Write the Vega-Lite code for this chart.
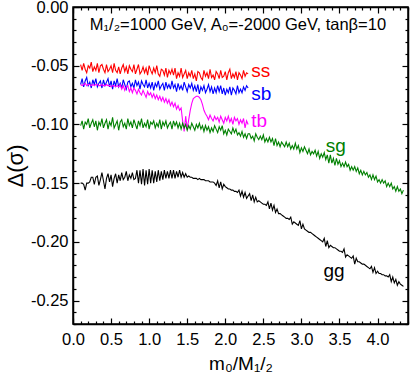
{
  "$schema": "https://vega.github.io/schema/vega-lite/v6.json",
  "width": 335,
  "height": 317,
  "autosize": {"type": "none"},
  "padding": {"left": 73, "top": 7, "right": 3, "bottom": 49},
  "config": {
    "font": "Liberation Sans",
    "view": {"stroke": "black", "strokeWidth": 1.5},
    "axis": {
      "domainColor": "black", "domainWidth": 1.5, "tickColor": "black", "tickWidth": 1.2,
      "labelColor": "black", "titleColor": "black", "labelFont": "Liberation Sans", "titleFont": "Liberation Sans",
      "labelFontSize": 16.5, "grid": false, "labelOverlap": false, "labelFlush": false, "labelBound": false,
      "titleFontWeight": "normal"
    }
  },
  "datasets": {
    "curves": [
      {"x":0.10,"ss":-0.049,"sb":-0.066,"tb":-0.066,"sg":-0.101,"gg":-0.150},
      {"x":0.12,"ss":-0.054,"sb":-0.061,"tb":-0.067,"sg":-0.097,"gg":-0.150},
      {"x":0.14,"ss":-0.048,"sb":-0.068,"tb":-0.066,"sg":-0.104,"gg":-0.151},
      {"x":0.16,"ss":-0.053,"sb":-0.063,"tb":-0.065,"sg":-0.098,"gg":-0.156},
      {"x":0.18,"ss":-0.056,"sb":-0.060,"tb":-0.067,"sg":-0.100,"gg":-0.150},
      {"x":0.20,"ss":-0.050,"sb":-0.067,"tb":-0.066,"sg":-0.095,"gg":-0.150},
      {"x":0.22,"ss":-0.052,"sb":-0.064,"tb":-0.066,"sg":-0.103,"gg":-0.149},
      {"x":0.24,"ss":-0.047,"sb":-0.069,"tb":-0.067,"sg":-0.099,"gg":-0.145},
      {"x":0.26,"ss":-0.055,"sb":-0.062,"tb":-0.066,"sg":-0.096,"gg":-0.145},
      {"x":0.28,"ss":-0.051,"sb":-0.066,"tb":-0.067,"sg":-0.102,"gg":-0.151},
      {"x":0.30,"ss":-0.054,"sb":-0.061,"tb":-0.066,"sg":-0.097,"gg":-0.145},
      {"x":0.32,"ss":-0.048,"sb":-0.068,"tb":-0.066,"sg":-0.105,"gg":-0.144},
      {"x":0.34,"ss":-0.056,"sb":-0.065,"tb":-0.067,"sg":-0.098,"gg":-0.152},
      {"x":0.36,"ss":-0.050,"sb":-0.063,"tb":-0.067,"sg":-0.101,"gg":-0.147},
      {"x":0.38,"ss":-0.049,"sb":-0.069,"tb":-0.066,"sg":-0.095,"gg":-0.141},
      {"x":0.40,"ss":-0.053,"sb":-0.062,"tb":-0.067,"sg":-0.103,"gg":-0.148},
      {"x":0.42,"ss":-0.056,"sb":-0.067,"tb":-0.067,"sg":-0.099,"gg":-0.155},
      {"x":0.44,"ss":-0.049,"sb":-0.064,"tb":-0.066,"sg":-0.096,"gg":-0.146},
      {"x":0.46,"ss":-0.055,"sb":-0.061,"tb":-0.067,"sg":-0.104,"gg":-0.142},
      {"x":0.48,"ss":-0.053,"sb":-0.068,"tb":-0.067,"sg":-0.098,"gg":-0.149},
      {"x":0.50,"ss":-0.050,"sb":-0.063,"tb":-0.068,"sg":-0.101,"gg":-0.143},
      {"x":0.52,"ss":-0.056,"sb":-0.070,"tb":-0.067,"sg":-0.094,"gg":-0.153},
      {"x":0.54,"ss":-0.048,"sb":-0.063,"tb":-0.067,"sg":-0.103,"gg":-0.146},
      {"x":0.56,"ss":-0.054,"sb":-0.067,"tb":-0.068,"sg":-0.100,"gg":-0.142},
      {"x":0.58,"ss":-0.056,"sb":-0.061,"tb":-0.067,"sg":-0.097,"gg":-0.150},
      {"x":0.60,"ss":-0.051,"sb":-0.068,"tb":-0.068,"sg":-0.105,"gg":-0.143},
      {"x":0.62,"ss":-0.057,"sb":-0.065,"tb":-0.066,"sg":-0.098,"gg":-0.148},
      {"x":0.64,"ss":-0.052,"sb":-0.069,"tb":-0.070,"sg":-0.096,"gg":-0.141},
      {"x":0.66,"ss":-0.049,"sb":-0.062,"tb":-0.067,"sg":-0.102,"gg":-0.147},
      {"x":0.68,"ss":-0.055,"sb":-0.066,"tb":-0.071,"sg":-0.099,"gg":-0.145},
      {"x":0.70,"ss":-0.051,"sb":-0.070,"tb":-0.068,"sg":-0.104,"gg":-0.140},
      {"x":0.72,"ss":-0.057,"sb":-0.064,"tb":-0.067,"sg":-0.095,"gg":-0.148},
      {"x":0.74,"ss":-0.050,"sb":-0.063,"tb":-0.072,"sg":-0.101,"gg":-0.143},
      {"x":0.76,"ss":-0.053,"sb":-0.068,"tb":-0.069,"sg":-0.098,"gg":-0.146},
      {"x":0.78,"ss":-0.055,"sb":-0.065,"tb":-0.073,"sg":-0.103,"gg":-0.141},
      {"x":0.80,"ss":-0.049,"sb":-0.069,"tb":-0.069,"sg":-0.096,"gg":-0.147},
      {"x":0.82,"ss":-0.057,"sb":-0.062,"tb":-0.071,"sg":-0.100,"gg":-0.146},
      {"x":0.84,"ss":-0.053,"sb":-0.067,"tb":-0.074,"sg":-0.104,"gg":-0.139},
      {"x":0.86,"ss":-0.049,"sb":-0.064,"tb":-0.070,"sg":-0.097,"gg":-0.150},
      {"x":0.88,"ss":-0.057,"sb":-0.070,"tb":-0.073,"sg":-0.101,"gg":-0.139},
      {"x":0.90,"ss":-0.055,"sb":-0.063,"tb":-0.075,"sg":-0.095,"gg":-0.151},
      {"x":0.92,"ss":-0.051,"sb":-0.066,"tb":-0.071,"sg":-0.103,"gg":-0.138},
      {"x":0.94,"ss":-0.056,"sb":-0.068,"tb":-0.074,"sg":-0.099,"gg":-0.152},
      {"x":0.96,"ss":-0.052,"sb":-0.062,"tb":-0.077,"sg":-0.102,"gg":-0.139},
      {"x":0.98,"ss":-0.058,"sb":-0.069,"tb":-0.072,"sg":-0.096,"gg":-0.151},
      {"x":1.00,"ss":-0.050,"sb":-0.065,"tb":-0.075,"sg":-0.104,"gg":-0.138},
      {"x":1.02,"ss":-0.054,"sb":-0.069,"tb":-0.073,"sg":-0.098,"gg":-0.150},
      {"x":1.04,"ss":-0.057,"sb":-0.064,"tb":-0.077,"sg":-0.100,"gg":-0.139},
      {"x":1.06,"ss":-0.052,"sb":-0.071,"tb":-0.074,"sg":-0.097,"gg":-0.150},
      {"x":1.08,"ss":-0.056,"sb":-0.065,"tb":-0.078,"sg":-0.103,"gg":-0.140},
      {"x":1.10,"ss":-0.050,"sb":-0.068,"tb":-0.075,"sg":-0.099,"gg":-0.149},
      {"x":1.12,"ss":-0.057,"sb":-0.063,"tb":-0.079,"sg":-0.102,"gg":-0.139},
      {"x":1.14,"ss":-0.059,"sb":-0.070,"tb":-0.076,"sg":-0.096,"gg":-0.148},
      {"x":1.16,"ss":-0.053,"sb":-0.067,"tb":-0.080,"sg":-0.104,"gg":-0.140},
      {"x":1.18,"ss":-0.054,"sb":-0.065,"tb":-0.077,"sg":-0.098,"gg":-0.147},
      {"x":1.20,"ss":-0.058,"sb":-0.071,"tb":-0.081,"sg":-0.101,"gg":-0.139},
      {"x":1.22,"ss":-0.052,"sb":-0.064,"tb":-0.078,"sg":-0.097,"gg":-0.146},
      {"x":1.24,"ss":-0.060,"sb":-0.069,"tb":-0.082,"sg":-0.103,"gg":-0.140},
      {"x":1.26,"ss":-0.054,"sb":-0.066,"tb":-0.079,"sg":-0.100,"gg":-0.146},
      {"x":1.28,"ss":-0.057,"sb":-0.070,"tb":-0.084,"sg":-0.098,"gg":-0.139},
      {"x":1.30,"ss":-0.053,"sb":-0.063,"tb":-0.081,"sg":-0.104,"gg":-0.146},
      {"x":1.32,"ss":-0.058,"sb":-0.069,"tb":-0.085,"sg":-0.097,"gg":-0.139},
      {"x":1.34,"ss":-0.052,"sb":-0.066,"tb":-0.082,"sg":-0.101,"gg":-0.146},
      {"x":1.36,"ss":-0.061,"sb":-0.072,"tb":-0.087,"sg":-0.098,"gg":-0.140},
      {"x":1.38,"ss":-0.056,"sb":-0.065,"tb":-0.084,"sg":-0.103,"gg":-0.145},
      {"x":1.40,"ss":-0.059,"sb":-0.070,"tb":-0.088,"sg":-0.099,"gg":-0.139},
      {"x":1.42,"ss":-0.052,"sb":-0.067,"tb":-0.086,"sg":-0.104,"gg":-0.145},
      {"x":1.44,"ss":-0.060,"sb":-0.071,"tb":-0.097,"sg":-0.099,"gg":-0.141},
      {"x":1.46,"ss":-0.057,"sb":-0.064,"tb":-0.106,"sg":-0.103,"gg":-0.145},
      {"x":1.48,"ss":-0.054,"sb":-0.068,"tb":-0.093,"sg":-0.100,"gg":-0.142},
      {"x":1.50,"ss":-0.061,"sb":-0.072,"tb":-0.104,"sg":-0.105,"gg":-0.145},
      {"x":1.52,"ss":-0.056,"sb":-0.066,"tb":-0.096,"sg":-0.101,"gg":-0.144},
      {"x":1.54,"ss":-0.059,"sb":-0.069,"tb":-0.088,"sg":-0.104,"gg":-0.145},
      {"x":1.56,"ss":-0.054,"sb":-0.065,"tb":-0.082,"sg":-0.099,"gg":-0.145},
      {"x":1.58,"ss":-0.061,"sb":-0.071,"tb":-0.078,"sg":-0.102,"gg":-0.146},
      {"x":1.60,"ss":-0.057,"sb":-0.067,"tb":-0.077,"sg":-0.105,"gg":-0.146},
      {"x":1.62,"ss":-0.063,"sb":-0.072,"tb":-0.076,"sg":-0.100,"gg":-0.146},
      {"x":1.64,"ss":-0.055,"sb":-0.066,"tb":-0.076,"sg":-0.103,"gg":-0.147},
      {"x":1.66,"ss":-0.056,"sb":-0.074,"tb":-0.077,"sg":-0.099,"gg":-0.146},
      {"x":1.68,"ss":-0.060,"sb":-0.068,"tb":-0.079,"sg":-0.104,"gg":-0.147},
      {"x":1.70,"ss":-0.062,"sb":-0.071,"tb":-0.083,"sg":-0.101,"gg":-0.147},
      {"x":1.72,"ss":-0.054,"sb":-0.067,"tb":-0.088,"sg":-0.106,"gg":-0.147},
      {"x":1.74,"ss":-0.059,"sb":-0.073,"tb":-0.091,"sg":-0.101,"gg":-0.148},
      {"x":1.76,"ss":-0.056,"sb":-0.070,"tb":-0.093,"sg":-0.105,"gg":-0.148},
      {"x":1.78,"ss":-0.061,"sb":-0.066,"tb":-0.096,"sg":-0.102,"gg":-0.148},
      {"x":1.80,"ss":-0.053,"sb":-0.072,"tb":-0.092,"sg":-0.107,"gg":-0.149},
      {"x":1.82,"ss":-0.060,"sb":-0.068,"tb":-0.095,"sg":-0.103,"gg":-0.149},
      {"x":1.84,"ss":-0.058,"sb":-0.074,"tb":-0.097,"sg":-0.106,"gg":-0.149},
      {"x":1.86,"ss":-0.062,"sb":-0.069,"tb":-0.093,"sg":-0.101,"gg":-0.150},
      {"x":1.88,"ss":-0.055,"sb":-0.073,"tb":-0.096,"sg":-0.104,"gg":-0.152},
      {"x":1.90,"ss":-0.057,"sb":-0.067,"tb":-0.094,"sg":-0.107,"gg":-0.148},
      {"x":1.92,"ss":-0.061,"sb":-0.072,"tb":-0.098,"sg":-0.102,"gg":-0.154},
      {"x":1.94,"ss":-0.054,"sb":-0.067,"tb":-0.093,"sg":-0.105,"gg":-0.149},
      {"x":1.96,"ss":-0.060,"sb":-0.074,"tb":-0.096,"sg":-0.101,"gg":-0.155},
      {"x":1.98,"ss":-0.059,"sb":-0.069,"tb":-0.099,"sg":-0.108,"gg":-0.151},
      {"x":2.00,"ss":-0.055,"sb":-0.075,"tb":-0.094,"sg":-0.105,"gg":-0.153},
      {"x":2.02,"ss":-0.062,"sb":-0.070,"tb":-0.097,"sg":-0.109,"gg":-0.154},
      {"x":2.04,"ss":-0.056,"sb":-0.073,"tb":-0.093,"sg":-0.104,"gg":-0.155},
      {"x":2.06,"ss":-0.053,"sb":-0.068,"tb":-0.098,"sg":-0.106,"gg":-0.155},
      {"x":2.08,"ss":-0.061,"sb":-0.075,"tb":-0.095,"sg":-0.108,"gg":-0.156},
      {"x":2.10,"ss":-0.057,"sb":-0.069,"tb":-0.100,"sg":-0.103,"gg":-0.156},
      {"x":2.12,"ss":-0.060,"sb":-0.071,"tb":-0.094,"sg":-0.107,"gg":-0.157},
      {"x":2.14,"ss":-0.055,"sb":-0.074,"tb":-0.097,"sg":-0.104,"gg":-0.157},
      {"x":2.16,"ss":-0.062,"sb":-0.067,"tb":-0.095,"sg":-0.109,"gg":-0.158},
      {"x":2.18,"ss":-0.056,"sb":-0.073,"tb":-0.100,"sg":-0.107,"gg":-0.156},
      {"x":2.20,"ss":-0.058,"sb":-0.070,"tb":-0.096,"sg":-0.110,"gg":-0.161},
      {"x":2.22,"ss":-0.061,"sb":-0.073,"tb":-0.099,"sg":-0.106,"gg":-0.157},
      {"x":2.24,"ss":-0.054,"sb":-0.068,"tb":-0.095,"sg":-0.111,"gg":-0.162},
      {"x":2.26,"ss":-0.059,"sb":-0.071,"tb":-0.103,"sg":-0.108,"gg":-0.158},
      {"x":2.28,"ss":-0.056,"sb":-0.067,"tb":-0.097,"sg":-0.112,"gg":-0.163},
      {"x":2.30,"ss":-0.057,"sb":-0.069,"tb":-0.100,"sg":-0.108,"gg":-0.161},
      {"x":2.32,"sg":-0.108,"gg":-0.159},
      {"x":2.34,"sg":-0.112,"gg":-0.165},
      {"x":2.36,"sg":-0.110,"gg":-0.160},
      {"x":2.38,"sg":-0.114,"gg":-0.166},
      {"x":2.40,"sg":-0.108,"gg":-0.162},
      {"x":2.42,"sg":-0.111,"gg":-0.166},
      {"x":2.44,"sg":-0.113,"gg":-0.165},
      {"x":2.46,"sg":-0.110,"gg":-0.166},
      {"x":2.48,"sg":-0.113,"gg":-0.167},
      {"x":2.50,"sg":-0.109,"gg":-0.168},
      {"x":2.52,"sg":-0.115,"gg":-0.168},
      {"x":2.54,"sg":-0.112,"gg":-0.169},
      {"x":2.56,"sg":-0.115,"gg":-0.166},
      {"x":2.58,"sg":-0.111,"gg":-0.172},
      {"x":2.60,"sg":-0.115,"gg":-0.167},
      {"x":2.62,"sg":-0.112,"gg":-0.173},
      {"x":2.64,"sg":-0.118,"gg":-0.169},
      {"x":2.66,"sg":-0.112,"gg":-0.175},
      {"x":2.68,"sg":-0.118,"gg":-0.172},
      {"x":2.70,"sg":-0.115,"gg":-0.176},
      {"x":2.72,"sg":-0.119,"gg":-0.176},
      {"x":2.74,"sg":-0.115,"gg":-0.177},
      {"x":2.76,"sg":-0.117,"gg":-0.178},
      {"x":2.78,"sg":-0.119,"gg":-0.179},
      {"x":2.80,"sg":-0.115,"gg":-0.180},
      {"x":2.82,"sg":-0.119,"gg":-0.180},
      {"x":2.84,"sg":-0.116,"gg":-0.181},
      {"x":2.86,"sg":-0.121,"gg":-0.179},
      {"x":2.88,"sg":-0.118,"gg":-0.185},
      {"x":2.90,"sg":-0.121,"gg":-0.183},
      {"x":2.92,"sg":-0.116,"gg":-0.184},
      {"x":2.94,"sg":-0.121,"gg":-0.185},
      {"x":2.96,"sg":-0.118,"gg":-0.186},
      {"x":2.98,"sg":-0.124,"gg":-0.182},
      {"x":3.00,"sg":-0.120,"gg":-0.189},
      {"x":3.02,"sg":-0.123,"gg":-0.185},
      {"x":3.04,"sg":-0.119,"gg":-0.189},
      {"x":3.06,"sg":-0.122,"gg":-0.190},
      {"x":3.08,"sg":-0.125,"gg":-0.191},
      {"x":3.10,"sg":-0.121,"gg":-0.192},
      {"x":3.12,"sg":-0.126,"gg":-0.192},
      {"x":3.14,"sg":-0.123,"gg":-0.193},
      {"x":3.16,"sg":-0.125,"gg":-0.194},
      {"x":3.18,"sg":-0.122,"gg":-0.195},
      {"x":3.20,"sg":-0.127,"gg":-0.196},
      {"x":3.22,"sg":-0.123,"gg":-0.197},
      {"x":3.24,"sg":-0.129,"gg":-0.198},
      {"x":3.26,"sg":-0.125,"gg":-0.199},
      {"x":3.28,"sg":-0.128,"gg":-0.200},
      {"x":3.30,"sg":-0.124,"gg":-0.197},
      {"x":3.32,"sg":-0.130,"gg":-0.204},
      {"x":3.34,"sg":-0.126,"gg":-0.199},
      {"x":3.36,"sg":-0.133,"gg":-0.205},
      {"x":3.38,"sg":-0.126,"gg":-0.203},
      {"x":3.40,"sg":-0.133,"gg":-0.204},
      {"x":3.42,"sg":-0.129,"gg":-0.205},
      {"x":3.44,"sg":-0.135,"gg":-0.205},
      {"x":3.46,"sg":-0.129,"gg":-0.206},
      {"x":3.48,"sg":-0.134,"gg":-0.207},
      {"x":3.50,"sg":-0.131,"gg":-0.208},
      {"x":3.52,"sg":-0.136,"gg":-0.208},
      {"x":3.54,"sg":-0.133,"gg":-0.209},
      {"x":3.56,"sg":-0.136,"gg":-0.206},
      {"x":3.58,"sg":-0.132,"gg":-0.213},
      {"x":3.60,"sg":-0.136,"gg":-0.211},
      {"x":3.62,"sg":-0.134,"gg":-0.212},
      {"x":3.64,"sg":-0.139,"gg":-0.213},
      {"x":3.66,"sg":-0.136,"gg":-0.214},
      {"x":3.68,"sg":-0.139,"gg":-0.212},
      {"x":3.70,"sg":-0.136,"gg":-0.219},
      {"x":3.72,"sg":-0.140,"gg":-0.214},
      {"x":3.74,"sg":-0.137,"gg":-0.217},
      {"x":3.76,"sg":-0.142,"gg":-0.217},
      {"x":3.78,"sg":-0.139,"gg":-0.218},
      {"x":3.80,"sg":-0.143,"gg":-0.219},
      {"x":3.82,"sg":-0.140,"gg":-0.219},
      {"x":3.84,"sg":-0.143,"gg":-0.220},
      {"x":3.86,"sg":-0.141,"gg":-0.221},
      {"x":3.88,"sg":-0.145,"gg":-0.222},
      {"x":3.90,"sg":-0.143,"gg":-0.223},
      {"x":3.92,"sg":-0.147,"gg":-0.221},
      {"x":3.94,"sg":-0.143,"gg":-0.226},
      {"x":3.96,"sg":-0.147,"gg":-0.222},
      {"x":3.98,"sg":-0.144,"gg":-0.227},
      {"x":4.00,"sg":-0.149,"gg":-0.225},
      {"x":4.02,"sg":-0.147,"gg":-0.227},
      {"x":4.04,"sg":-0.150,"gg":-0.227},
      {"x":4.06,"sg":-0.147,"gg":-0.228},
      {"x":4.08,"sg":-0.150,"gg":-0.228},
      {"x":4.10,"sg":-0.148,"gg":-0.229},
      {"x":4.12,"sg":-0.153,"gg":-0.229},
      {"x":4.14,"sg":-0.150,"gg":-0.230},
      {"x":4.16,"sg":-0.153,"gg":-0.228},
      {"x":4.18,"sg":-0.150,"gg":-0.234},
      {"x":4.20,"sg":-0.155,"gg":-0.230},
      {"x":4.22,"sg":-0.153,"gg":-0.235},
      {"x":4.24,"sg":-0.157,"gg":-0.232},
      {"x":4.26,"sg":-0.153,"gg":-0.237},
      {"x":4.28,"sg":-0.157,"gg":-0.234},
      {"x":4.30,"sg":-0.155,"gg":-0.236},
      {"x":4.32,"sg":-0.159,"gg":-0.237},
      {"x":4.34,"sg":-0.156,"gg":-0.238}
    ],
    "labels": [
      {"series":"ss","x":2.34,"y":-0.060},
      {"series":"sb","x":2.34,"y":-0.0788},
      {"series":"tb","x":2.34,"y":-0.1025},
      {"series":"sg","x":3.32,"y":-0.1237},
      {"series":"gg","x":3.29,"y":-0.2297}
    ],
    "header": [
      {"text":"M₁/₂=1000 GeV, A₀=-2000 GeV, tanβ=10","x":0.22,"y":-0.0195}
    ]
  },
  "layer": [
    {
      "data": {"name": "curves"},
      "transform": [
        {"fold": ["ss","sb","tb","sg","gg"], "as": ["series","y"]},
        {"filter": "isValid(datum.y)"}
      ],
      "mark": {"type": "line", "strokeWidth": 1.1},
      "encoding": {
        "x": {
          "field": "x", "type": "quantitative",
          "scale": {"domain": [0, 4.4], "nice": false, "zero": false},
          "axis": {
            "orient": "bottom",
            "values": [0,0.1,0.2,0.3,0.4,0.5,0.6,0.7,0.8,0.9,1,1.1,1.2,1.3,1.4,1.5,1.6,1.7,1.8,1.9,2,2.1,2.2,2.3,2.4,2.5,2.6,2.7,2.8,2.9,3,3.1,3.2,3.3,3.4,3.5,3.6,3.7,3.8,3.9,4,4.1,4.2,4.3,4.4],
            "tickSize": {"condition": {"test": "abs(datum.value*2-round(datum.value*2))<1e-6", "value": -6}, "value": -3},
            "labelExpr": "abs(datum.value*2-round(datum.value*2))<1e-6 ? format(datum.value,'.1f') : ''",
            "labelPadding": 13,
            "title": "m₀/M₁/₂",
            "titleFontSize": 19,
            "titlePadding": 4
          }
        },
        "y": {
          "field": "y", "type": "quantitative",
          "scale": {"domain": [-0.27, 0], "nice": false, "zero": false},
          "axis": {
            "orient": "left",
            "values": [-0.27,-0.26,-0.25,-0.24,-0.23,-0.22,-0.21,-0.2,-0.19,-0.18,-0.17,-0.16,-0.15,-0.14,-0.13,-0.12,-0.11,-0.1,-0.09,-0.08,-0.07,-0.06,-0.05,-0.04,-0.03,-0.02,-0.01,0],
            "tickSize": {"condition": {"test": "abs(datum.value*20-round(datum.value*20))<1e-6", "value": -6}, "value": -3},
            "labelExpr": "abs(datum.value*20-round(datum.value*20))<1e-6 ? replace(format(datum.value,'.2f'),'−','-') : ''",
            "labelPadding": 11,
            "title": "Δ(σ)",
            "titleFontSize": 22,
            "titlePadding": 3
          }
        },
        "color": {
          "field": "series", "type": "nominal",
          "scale": {"domain": ["ss","sb","tb","sg","gg"], "range": ["#ff0000","#0000ff","#ff00ff","#008000","#000000"]},
          "legend": null
        }
      }
    },
    {
      "data": {"name": "labels"},
      "mark": {"type": "text", "align": "left", "baseline": "alphabetic", "fontSize": 19, "font": "Liberation Sans"},
      "encoding": {
        "x": {
          "field": "x", "type": "quantitative",
          "scale": {"domain": [0, 4.4], "nice": false, "zero": false},
          "axis": {
            "orient": "top",
            "values": [0,0.1,0.2,0.3,0.4,0.5,0.6,0.7,0.8,0.9,1,1.1,1.2,1.3,1.4,1.5,1.6,1.7,1.8,1.9,2,2.1,2.2,2.3,2.4,2.5,2.6,2.7,2.8,2.9,3,3.1,3.2,3.3,3.4,3.5,3.6,3.7,3.8,3.9,4,4.1,4.2,4.3,4.4],
            "tickSize": {"condition": {"test": "abs(datum.value*2-round(datum.value*2))<1e-6", "value": -6}, "value": -3},
            "labels": false, "title": null
          }
        },
        "y": {
          "field": "y", "type": "quantitative",
          "scale": {"domain": [-0.27, 0], "nice": false, "zero": false},
          "axis": {
            "orient": "right",
            "values": [-0.27,-0.26,-0.25,-0.24,-0.23,-0.22,-0.21,-0.2,-0.19,-0.18,-0.17,-0.16,-0.15,-0.14,-0.13,-0.12,-0.11,-0.1,-0.09,-0.08,-0.07,-0.06,-0.05,-0.04,-0.03,-0.02,-0.01,0],
            "tickSize": {"condition": {"test": "abs(datum.value*20-round(datum.value*20))<1e-6", "value": -6}, "value": -3},
            "labels": false, "title": null
          }
        },
        "text": {"field": "series"},
        "color": {"field": "series", "type": "nominal", "legend": null}
      }
    },
    {
      "data": {"name": "header"},
      "mark": {"type": "text", "align": "left", "baseline": "alphabetic", "fontSize": 16.5, "font": "Liberation Sans", "color": "black"},
      "encoding": {
        "x": {"field": "x", "type": "quantitative", "scale": {"domain": [0, 4.4], "nice": false, "zero": false}, "axis": null},
        "y": {"field": "y", "type": "quantitative", "scale": {"domain": [-0.27, 0], "nice": false, "zero": false}, "axis": null},
        "text": {"field": "text"}
      }
    }
  ],
  "resolve": {"axis": {"x": "independent", "y": "independent"}}
}
